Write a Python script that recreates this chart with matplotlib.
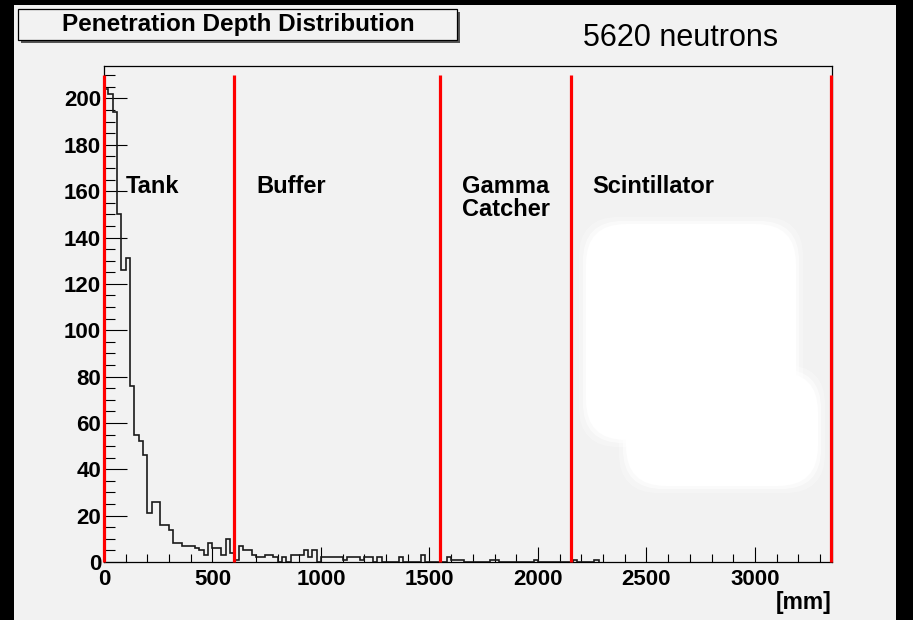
# Penetration depth histogram, ROOT canvas look
import numpy as np
import matplotlib.pyplot as plt
from matplotlib.patches import Rectangle, FancyBboxPatch
from matplotlib.ticker import MultipleLocator
from matplotlib.transforms import IdentityTransform

W, H = 913, 620

# histogram: 20 mm bins starting at 0 mm (counts)
bin_width = 20
counts = [204, 202, 194, 150, 126, 131, 76, 55, 52, 46,
          21, 26, 26, 16, 16, 14, 8, 8, 7, 7,
          7, 6, 5, 3, 8, 6, 6, 3, 10, 4,
          1, 7, 5, 5, 3, 2, 2, 3, 3, 2,
          0, 2, 0, 3, 3, 3, 5, 2, 5, 0,
          2, 2, 2, 2, 2, 1, 2, 2, 2, 1,
          2, 2, 0, 2, 0, 0, 0, 0, 2, 0,
          0, 0, 0, 3, 0, 0, 0, 0, 0, 2,
          1, 1, 1, 0, 0, 0, 0, 0, 0, 1,
          1, 0, 0, 0, 0, 0, 0, 0, 0, 1,
          0, 0, 0, 0, 0, 0, 0, 0, 1, 0,
          0, 0, 0, 1]

boundaries = [0, 600, 1550, 2150, 3350]       # mm
region_labels = ['Tank', 'Buffer', 'Gamma\nCatcher', 'Scintillator']
title = 'Penetration Depth Distribution'
n_neutrons = 5620


def fx(px):
    return px / W


def fy(py):
    return 1 - py / H


plt.rcParams['font.family'] = ['Liberation Sans', 'DejaVu Sans']
bg = '#f2f2f2'

fig = plt.figure(figsize=(W / 100, H / 100), dpi=100, facecolor='black')
fig.add_artist(Rectangle((fx(14), 0), fx(896) - fx(14), fy(5),
                         transform=fig.transFigure, facecolor=bg,
                         edgecolor='none', zorder=0))

ax = fig.add_axes([fx(104), fy(562), fx(832) - fx(104), fy(66) - fy(562)])
ax.set_facecolor(bg)

edges = np.arange(len(counts) + 1) * bin_width
ax.stairs(counts, edges, color='#1a1a1a', lw=1.2, zorder=3)

# detector region boundaries
ax.vlines(boundaries, 0, 210, color='red', lw=2.3, zorder=4, clip_on=False)
for b, lab in zip(boundaries, region_labels):
    ax.text(b + 100, 167, lab, fontsize=17, fontweight='bold',
            ha='left', va='top', linespacing=1.0)

ax.set_xlim(0, 3355)
ax.set_ylim(0, 214)
ax.xaxis.set_major_locator(MultipleLocator(500))
ax.xaxis.set_minor_locator(MultipleLocator(100))
ax.yaxis.set_major_locator(MultipleLocator(20))
ax.yaxis.set_minor_locator(MultipleLocator(5))
ax.tick_params(which='both', direction='in', top=False, right=False,
               width=0.8, colors='black', labelsize=16)
ax.tick_params(axis='x', which='major', length=10.8, pad=5)
ax.tick_params(axis='x', which='minor', length=5.8)
ax.tick_params(axis='y', which='major', length=16.5, pad=2)
ax.tick_params(axis='y', which='minor', length=8)
for lab in ax.get_xticklabels() + ax.get_yticklabels():
    lab.set_fontweight('bold')
for sp in ax.spines.values():
    sp.set_linewidth(0.9)

fig.text(fx(831), fy(603), '[mm]', fontsize=16.5, fontweight='bold',
         ha='right', va='center')

# title box with shadow
fig.add_artist(Rectangle((fx(21), fy(43)), fx(460) - fx(21), fy(12) - fy(43),
                         transform=fig.transFigure, facecolor='#555555',
                         edgecolor='none', zorder=5))
fig.add_artist(Rectangle((fx(18), fy(40)), fx(457) - fx(18), fy(9) - fy(40),
                         transform=fig.transFigure, facecolor=bg,
                         edgecolor='black', lw=0.9, zorder=6))
fig.text(fx(238), fy(24), title, fontsize=17.5, fontweight='bold',
         ha='center', va='center', zorder=7)
fig.text(fx(681), fy(38), f'{n_neutrons} neutrons', fontsize=22,
         ha='center', va='center')

# whitened patch over the scintillator region
for x0, y0, x1, y1 in [(586, 224, 796, 440), (626, 372, 818, 486)]:
    for grow, alpha in [(7, 0.3), (3, 0.6), (0, 1.0)]:
        fig.add_artist(FancyBboxPatch(
            (x0 - grow, H - y1 - grow), x1 - x0 + 2 * grow, y1 - y0 + 2 * grow,
            boxstyle='round,pad=0,rounding_size=40', transform=IdentityTransform(),
            facecolor='white', edgecolor='none', alpha=alpha, zorder=8))

fig.savefig('out.png', dpi=100, facecolor=fig.get_facecolor())
